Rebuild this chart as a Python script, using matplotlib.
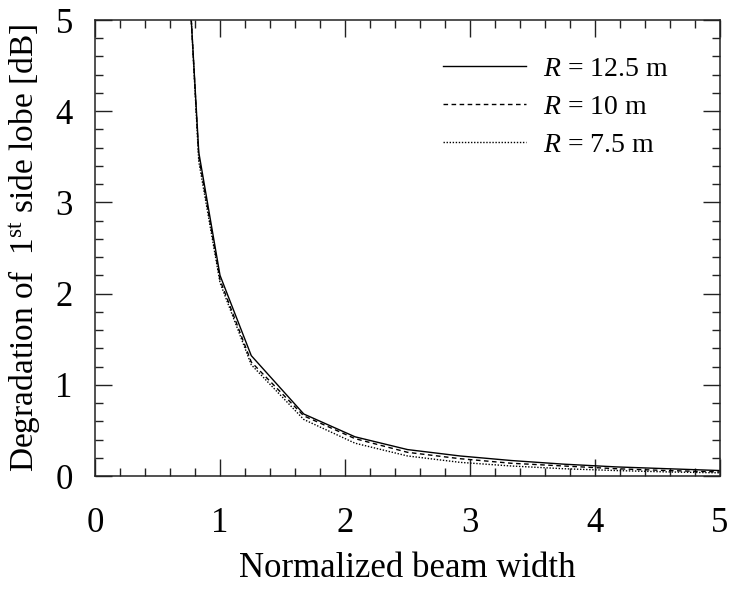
import numpy as np
import matplotlib
matplotlib.use("Agg")
import matplotlib.pyplot as plt
from matplotlib.ticker import MultipleLocator

# data
beam_width = [0.77, 0.83, 1.0, 1.25, 1.67, 2.08, 2.5, 2.92, 3.33, 3.75, 4.17, 4.58, 5.0]
r125 = [5.0, 3.55, 2.2, 1.32, 0.68, 0.43, 0.29, 0.22, 0.17, 0.13, 0.10, 0.08, 0.06]
r10 = [5.0, 3.50, 2.15, 1.25, 0.66, 0.41, 0.26, 0.19, 0.14, 0.11, 0.08, 0.06, 0.045]
r75 = [5.0, 3.45, 2.12, 1.22, 0.62, 0.36, 0.22, 0.15, 0.11, 0.08, 0.06, 0.045, 0.035]
labels = [r"$R$ = 12.5 m", r"$R$ = 10 m", r"$R$ = 7.5 m"]

plt.rcParams["font.family"] = ["Liberation Serif", "DejaVu Serif"]
plt.rcParams["mathtext.fontset"] = "custom"
plt.rcParams["mathtext.rm"] = "Liberation Serif"
plt.rcParams["mathtext.it"] = "Liberation Serif:italic"

fig = plt.figure(figsize=(7.36, 5.92), dpi=100)
ax = fig.add_axes([0.1291, 0.1959, 0.8492, 0.7703])

ax.plot(beam_width, r125, color="black", lw=1.0, ls="-", label=labels[0])
ax.plot(beam_width, r10, color="black", lw=1.0, ls=(0, (3.3, 2.5)), label=labels[1])
ax.plot(beam_width, r75, color="black", lw=1.0, ls=(0, (1, 1.2)), label=labels[2])

ax.set_xlim(0, 5)
ax.set_ylim(0, 5)
ax.xaxis.set_major_locator(MultipleLocator(1))
ax.xaxis.set_minor_locator(MultipleLocator(0.2))
ax.yaxis.set_major_locator(MultipleLocator(1))
ax.yaxis.set_minor_locator(MultipleLocator(0.2))
ax.tick_params(which="both", direction="in", top=True, right=True, width=1.0, color="#222222")
ax.tick_params(which="major", length=12, labelsize=25)
ax.tick_params(axis="x", which="major", pad=22)
ax.tick_params(axis="y", which="major", pad=16)
ax.tick_params(which="minor", length=6)
for s in ax.spines.values():
    s.set_linewidth(1.1)
    s.set_color("#222222")

ax.set_xlabel("Normalized beam width", fontsize=25, labelpad=9)
ax.set_ylabel(r"Degradation of  1$^{\rm st}$ side lobe [dB]", fontsize=24, labelpad=9)

ax.legend(loc="upper left", frameon=False, fontsize=20, handlelength=3.0,
          handletextpad=0.58, labelspacing=0.45, borderpad=0, borderaxespad=0,
          bbox_to_anchor=(0.557, 0.92))

fig.savefig("out.png", dpi=100)
